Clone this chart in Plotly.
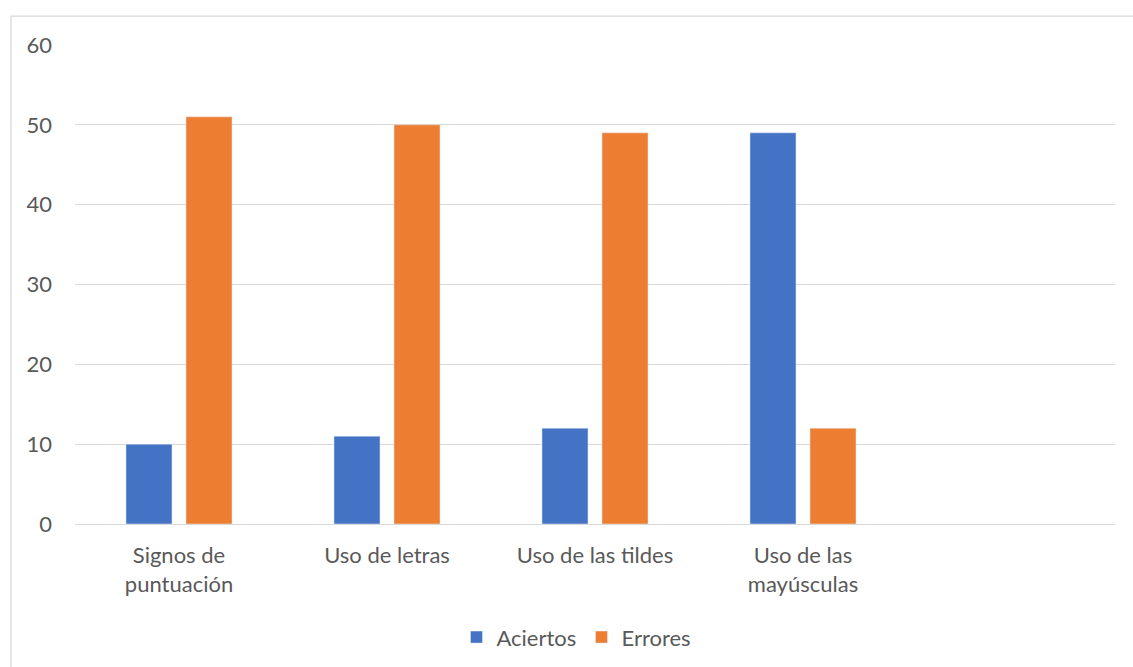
import plotly.graph_objects as go

categories = ["Signos de<br>puntuación", "Uso de letras", "Uso de las tildes", "Uso de las<br>mayúsculas", " "]
aciertos = [10, 11, 12, 49, None]
errores = [51, 50, 49, 12, None]
y_ticks = [0, 10, 20, 30, 40, 50, 60]

W, H = 1133, 667
L, R, T, B = 75, 18, 44.5, 142.5
pw, ph = W - L - R, H - T - B

def px_x(px):
    return (px - L) / pw

def px_y(py):
    return (H - B - py) / ph

FONT = "Lato"
TXT = "#595959"
FS = 22

fig = go.Figure()
fig.add_trace(go.Bar(name="Aciertos", x=categories, y=aciertos, marker_color="#4472C4"))
fig.add_trace(go.Bar(name="Errores", x=categories, y=errores, marker_color="#ED7D31"))

fig.update_layout(
    width=W, height=H,
    margin=dict(l=L, r=R, t=T, b=B, pad=0, autoexpand=False),
    paper_bgcolor="white", plot_bgcolor="white",
    barmode="group", bargap=0.423, bargroupgap=0.233,
    font=dict(family=FONT, size=FS, color=TXT),
    showlegend=True,
    legend=dict(orientation="h", x=0.487, xanchor="center", y=px_y(638), yanchor="middle",
                font=dict(family=FONT, size=FS, color=TXT), itemwidth=30, traceorder="normal",
                entrywidth=80, entrywidthmode="pixels"),
    shapes=[dict(type="rect", xref="paper", yref="paper",
                 x0=px_x(11), x1=px_x(1140), y0=px_y(680), y1=px_y(15.5),
                 line=dict(color="#D9D9D9", width=1.3), fillcolor="rgba(0,0,0,0)", layer="below")],
)
fig.update_xaxes(type="category", showgrid=False, showline=False, zeroline=False, ticks="",
                 automargin=False,
                 tickfont=dict(family=FONT, size=FS, color=TXT), ticklabelstandoff=16)
fig.update_yaxes(range=[0, 60], tickvals=y_ticks, showgrid=True, gridcolor="#D9D9D9", gridwidth=1.3,
                 zeroline=True, zerolinecolor="#D9D9D9", zerolinewidth=1.3, showline=False, ticks="",
                 automargin=False,
                 tickfont=dict(family=FONT, size=FS, color=TXT), ticklabelstandoff=22)

fig.write_html("out.html", config={"displayModeBar": False},
               post_script="document.body.style.margin='0';document.body.style.padding='0';")
